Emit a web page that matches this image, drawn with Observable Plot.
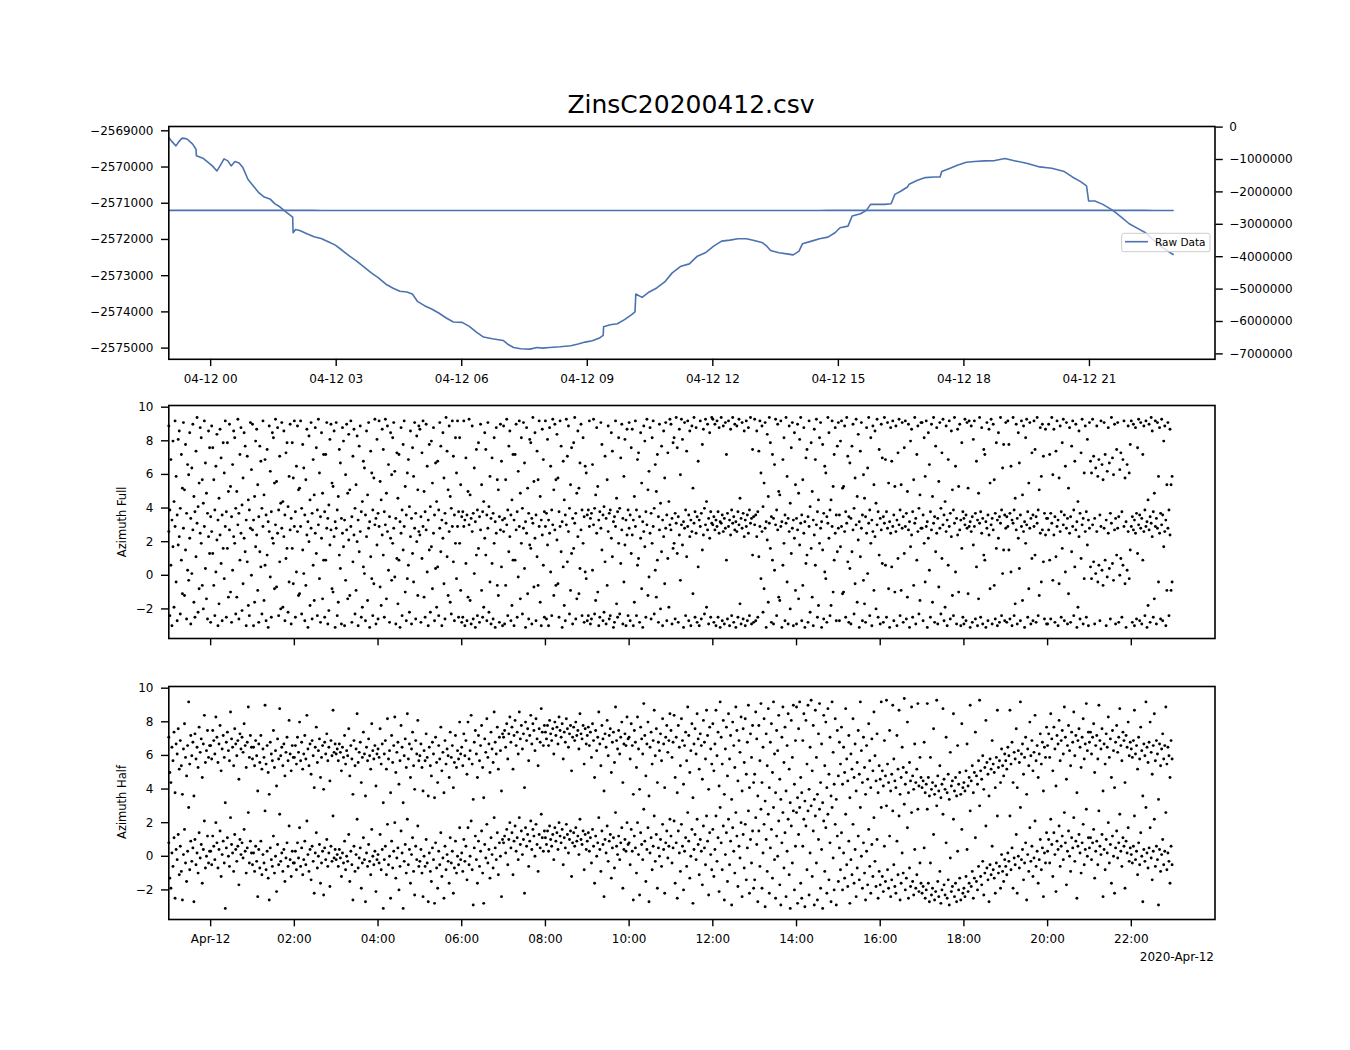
<!DOCTYPE html>
<html>
<head>
<meta charset="utf-8">
<script src="https://cdn.jsdelivr.net/npm/d3@7"></script>
<script src="https://cdn.jsdelivr.net/npm/@observablehq/plot@0.6"></script>
<style>
  body { margin: 0; background: #fff; }
  #fig { position: relative; width: 1350px; height: 1050px; font-family: "DejaVu Sans", sans-serif; overflow: hidden; }
  #fig > svg { position: absolute; left: 0; }
</style>
</head>
<body>
<div id="fig"></div>
<script>
// ---------------- data ----------------
const titleText = "ZinsC20200412.csv";

// top panel: raw data (hours relative to 2020-04-12 00:00 UTC)
const rawHours = [-1.00,-0.94,-0.83,-0.76,-0.68,-0.60,-0.55,-0.43,-0.35,-0.34,-0.17,0.04,0.15,0.21,0.32,0.41,0.49,0.58,0.68,0.77,0.89,1.02,1.15,1.28,1.43,1.53,1.66,1.79,1.96,1.97,2.03,2.13,2.30,2.47,2.64,2.81,2.98,3.15,3.32,3.49,3.66,3.84,4.01,4.18,4.35,4.52,4.69,4.82,4.94,5.11,5.28,5.45,5.63,5.80,6.01,6.18,6.35,6.52,6.73,6.99,7.12,7.24,7.41,7.63,7.80,7.93,8.10,8.35,8.61,8.78,8.95,9.12,9.29,9.38,9.39,9.55,9.72,9.89,10.06,10.14,10.16,10.31,10.48,10.66,10.85,11.03,11.24,11.44,11.63,11.82,12.02,12.21,12.41,12.60,12.80,12.99,13.19,13.29,13.38,13.58,13.77,13.92,14.06,14.14,14.36,14.55,14.75,14.92,15.04,15.23,15.33,15.53,15.67,15.77,15.92,16.11,16.26,16.35,16.50,16.65,16.69,16.89,17.08,17.28,17.43,17.47,17.67,17.86,18.06,18.25,18.50,18.74,18.98,19.23,19.52,19.81,20.10,20.40,20.59,20.79,20.93,20.98,21.13,21.32,21.56,21.76,21.95,22.15,22.34,22.54,22.73,23.00];
const rawValues = [-2569185,-2569277,-2569415,-2569300,-2569203,-2569215,-2569240,-2569369,-2569508,-2569692,-2569766,-2569969,-2570108,-2569997,-2569775,-2569831,-2569969,-2569849,-2569886,-2570015,-2570338,-2570523,-2570708,-2570828,-2570892,-2571012,-2571105,-2571234,-2571382,-2571815,-2571723,-2571751,-2571843,-2571926,-2571972,-2572065,-2572157,-2572305,-2572462,-2572600,-2572757,-2572923,-2573062,-2573228,-2573339,-2573431,-2573449,-2573505,-2573708,-2573828,-2573920,-2574031,-2574169,-2574280,-2574289,-2574400,-2574557,-2574695,-2574742,-2574788,-2574908,-2574982,-2575018,-2575028,-2574982,-2575000,-2574982,-2574963,-2574935,-2574889,-2574834,-2574797,-2574723,-2574649,-2574409,-2574354,-2574326,-2574215,-2574077,-2574003,-2573505,-2573600,-2573450,-2573339,-2573172,-2572923,-2572739,-2572674,-2572462,-2572369,-2572185,-2572046,-2572018,-2571982,-2571982,-2572028,-2572092,-2572185,-2572305,-2572369,-2572397,-2572425,-2572323,-2572120,-2572046,-2571982,-2571935,-2571815,-2571677,-2571631,-2571354,-2571289,-2571197,-2571031,-2571031,-2571031,-2571012,-2570754,-2570662,-2570551,-2570477,-2570366,-2570292,-2570274,-2570274,-2570126,-2570034,-2569942,-2569868,-2569849,-2569831,-2569822,-2569766,-2569831,-2569905,-2569997,-2570034,-2570126,-2570274,-2570403,-2570523,-2570938,-2570938,-2571031,-2571197,-2571382,-2571566,-2571695,-2571815,-2572028,-2572212,-2572415];
const seriesName = "Raw Data";

const leftTicks = [-2569000,-2570000,-2571000,-2572000,-2573000,-2574000,-2575000];
const rightTicks = [0,-1000000,-2000000,-3000000,-4000000,-5000000,-6000000,-7000000];
const topTickHours = [0,3,6,9,12,15,18,21];
const topTickLabels = ["04-12 00","04-12 03","04-12 06","04-12 09","04-12 12","04-12 15","04-12 18","04-12 21"];
const bottomTickHours = [0,2,4,6,8,10,12,14,16,18,20,22];
const bottomTickLabels = ["Apr-12","02:00","04:00","06:00","08:00","10:00","12:00","14:00","16:00","18:00","20:00","22:00"];
const bottomOffsetLabel = "2020-Apr-12";
const azTicks = [-2,0,2,4,6,8,10];
const azFullLabel = "Azimuth Full";
const azHalfLabel = "Azimuth Half";

// azimuth samples (radians), one row per hour starting 2020-04-11 23:00 UTC, evenly spaced inside each hour
const azStartHour = -1;
const azFull = [
[2.6,-2.4,0.6,-3.0,1.7,-1.9,2.9,-0.4,-2.7,1.8,2.3,-2.3,0.9,-1.1,2.8,-1.2,1.5,-2.6,0.3,-0.3,2.2,-2.9,0.1,2.7,-1.6,-2.5,1.1,3.1,-2.2,-0.8,2.5,1.9,-0.6,-2.0,2.9,0.4,-1.4,-2.6,2.3,1.3],
[-2.8,2.6,1.3,-0.6,-2.4,0.2,2.1,-3.0,-1.7,2.4,0.7,-2.7,1.6,-0.2,2.9,-2.5,1.6,-1.3,2.7,-1.0,-2.8,0.3,2.3,1.9,-2.3,-1.3,3.0,-2.6,0.9,2.5,-2.1,-0.5,2.2,1.4,-3.0,0.8,-1.8,-2.4,2.8,0.0],
[2.7,-3.0,-1.6,1.7,2.4,-0.9,-2.8,1.4,0.5,-2.3,2.9,-1.5,0.6,-2.7,1.2,-3.1,2.6,-0.1,-2.5,2.2,1.9,-0.8,3.0,-0.7,2.5,-2.4,0.8,-2.0,2.8,-1.9,2.3,-2.7,1.0,1.6,-2.2,-0.4,2.7,-2.9,1.6,-0.5],
[2.9,-2.5,0.2,2.6,-1.2,-1.1,2.9,-2.3,1.5,0.1,-2.7,-0.6,2.4,-3.1,2.0,-1.8,2.8,-2.6,0.6,-1.5,2.5,1.3,-2.4,3.0,-0.2,-2.8,2.2,-1.4,0.9,-2.5,0.9,2.8,-2.9,-2.1,1.8,2.7,-0.8,-1.0,2.3,-3.1],
[2.8,-2.4,-1.6,1.2,0.4,-2.9,2.5,1.7,-3.0,-0.3,2.7,-1.4,2.1,-1.2,2.9,-2.8,0.8,2.4,-2.3,-0.9,2.0,-3.0,1.4,2.6,-2.5,-1.9,0.5,0.1,-2.7,2.3,-1.5,2.8,-3.1,1.1,-0.2,-2.4,-0.5,3.0,-2.9,1.8],
[-2.6,2.9,-0.7,-1.8,2.4,1.2,-2.5,3.0,-1.4,2.6,0.3,-2.8,2.2,-0.3,1.9,2.8,-0.1,-2.9,1.0,-1.7,0.9,-3.1,2.5,-2.4,1.5,2.9,-1.0,-2.7,-0.2,0.6,-2.2,2.3,-2.9,1.3,-0.4,2.8,-2.6,2.0,-1.2,2.6],
[2.4,-2.8,1.0,2.9,-1.3,-2.5,2.7,0.2,-3.0,1.5,-2.2,1.7,-0.8,2.5,-2.7,0.4,-1.9,0.5,-2.4,2.8,1.4,-3.0,2.2,-0.5,-2.6,3.1,1.1,-1.2,2.6,-1.6,-2.3,2.9,0.8,-2.7,1.9,-0.2,2.9,-2.5,1.9,-0.9],
[-2.8,-2.5,2.9,-3.0,0.7,-2.7,-1.3,3.0,-1.5,-2.9,2.6,-2.6,0.1,-3.1,1.2,-2.4,1.6,-2.8,2.7,-0.9,-2.5,-1.9,2.2,1.2,-2.7,2.8,-2.2,-0.4,-2.9,0.7,-2.6,1.9,-3.1,2.5,-0.6,-1.2,-2.8,2.7,0.5,-3.0],
[2.6,-2.9,-0.6,3.0,-2.4,1.4,2.3,-2.7,-1.8,0.9,-3.0,0.9,2.7,-2.5,-0.1,2.9,-1.4,1.9,-2.3,2.8,0.4,-3.1,2.5,-1.1,-2.6,1.8,1.6,-2.9,3.1,-0.7,2.2,-2.7,1.1,-0.6,2.9,-1.6,-3.0,2.4,0.6,-2.5],
[2.9,-2.6,1.8,-3.0,2.5,0.2,-2.4,3.0,-1.2,2.7,-0.6,2.1,-0.5,-2.5,2.9,1.4,-3.1,0.5,-1.8,-2.7,3.0,0.8,2.6,-2.3,-0.9,1.3,-2.9,1.6,3.1,-2.6,-1.4,2.3,-1.1,0.4,2.7,-2.4,1.9,-2.8,0.2,-0.2],
[-2.7,-2.4,2.9,-2.9,-2.6,0.3,3.0,-2.3,-1.5,2.5,-1.0,-3.0,-2.5,2.8,1.5,-2.7,-2.2,0.8,-2.9,-0.6,2.6,-2.6,-2.4,2.2,1.1,-3.1,-2.8,2.9,-1.7,-2.5,1.9,-2.3,0.7,2.7,-2.9,-0.4,1.8,-3.0,2.4,-2.4],
[2.8,-2.7,1.3,2.4,-3.0,-1.6,2.9,-2.4,0.6,1.0,-2.8,2.2,-0.8,-3.1,2.6,1.7,-2.5,3.0,-1.2,-0.1,2.5,-2.6,1.9,2.9,-2.3,0.3,-1.3,0.9,-2.8,2.7,-2.0,1.4,-3.0,2.3,-0.5,2.8,-2.7,1.0,-1.9,3.0],
[2.7,-2.9,1.6,1.9,-2.6,3.1,1.3,-2.8,2.4,-0.3,3.0,1.8,-3.1,2.8,-2.4,1.1,2.9,-2.7,2.3,-3.0,2.6,-1.1,3.1,-2.5,2.5,-2.8,0.5,-3.0,2.9,-2.6,1.5,2.4,-2.3,3.0,-1.9,2.7,-2.9,2.2,-2.5,3.1],
[3.0,-2.8,2.7,-3.0,2.9,-2.5,2.5,-3.1,3.1,-2.7,2.6,-2.9,2.8,0.9,-2.6,2.9,-3.0,2.4,-2.4,3.1,-2.8,2.7,-3.1,2.6,-2.5,3.0,-1.7,-2.9,2.8,-2.6,2.3,-3.0,2.9,-2.7,2.5,-2.4,3.1,-2.9,1.2,-2.8],
[3.0,-2.7,2.3,-2.5,1.1,2.9,-0.2,2.6,-2.2,-0.8,2.8,-3.1,2.1,-1.6,3.1,1.6,-2.8,0.9,-2.9,0.3,3.0,-2.4,2.7,-1.3,-1.5,2.9,-3.1,0.6,1.9,-2.7,3.1,-0.4,-2.9,2.6,-2.0,1.3,2.8,-3.0,2.2,-0.9],
[-2.9,2.7,-1.4,1.8,3.1,-2.7,-0.6,2.5,-3.1,0.7,1.2,-2.8,2.9,-2.2,1.6,-1.3,-3.0,2.4,0.6,3.0,-2.5,-1.8,1.9,2.8,-3.1,1.5,-2.6,0.2,-0.2,-2.8,3.1,2.2,-2.4,-1.8,2.9,-1.0,0.9,2.5,-2.7,1.4],
[2.8,-2.7,1.7,2.9,-1.1,-1.0,2.6,-2.5,3.1,0.8,-2.8,0.4,-2.9,1.4,2.7,-2.3,-0.5,3.0,-1.6,2.1,-3.1,1.1,2.8,-2.7,-0.3,-1.7,-2.8,2.5,0.1,3.1,-2.4,1.9,-3.0,2.6,-0.9,2.3,-2.0,3.0,-2.5,1.2],
[-2.9,2.7,0.7,-2.8,3.1,0.6,-2.5,2.8,-0.8,-3.1,2.5,0.5,2.9,-2.7,-1.0,2.6,-3.0,1.0,3.0,-2.4,-0.9,2.8,-2.8,1.3,2.9,-2.6,-1.3,2.7,-3.1,1.7,2.4,-2.5,-0.6,3.1,-2.9,0.9,2.6,-2.3,-1.5,2.8],
[2.8,-2.7,1.9,-0.4,2.9,-3.1,2.2,0.3,-2.5,2.7,-1.6,3.1,-2.8,1.4,2.5,-2.9,-0.7,2.8,-2.3,1.0,3.0,-2.7,-1.9,2.6,-3.0,0.6,2.9,-2.6,2.3,-1.2,-2.4,3.1,0.2,-2.9,2.4,-1.0,2.7,-3.0,1.6,-2.5],
[-2.9,3.0,-2.7,2.8,-1.1,2.9,-3.1,2.6,-2.8,1.8,2.9,-2.6,0.5,-3.0,-1.4,3.1,-2.5,2.5,-2.9,1.2,0.9,-3.1,2.8,-2.7,2.4,-0.8,3.0,-2.9,2.7,-0.6,-2.6,1.6,-3.0,2.2,-2.8,3.1,-2.4,0.1,1.5,-2.7],
[2.8,-2.8,2.9,1.5,-2.6,0.2,-3.0,3.1,-2.4,-1.7,2.7,-2.9,2.2,0.4,-2.7,2.9,-1.5,2.6,-3.1,1.9,3.0,-2.5,-0.8,2.8,-2.9,1.0,-2.7,2.9,1.2,-2.8,3.1,-2.4,-1.2,2.5,-0.4,2.7,0.8,-2.6,2.4,-2.9],
[-2.9,2.7,0.9,-2.6,3.1,-0.3,2.4,-2.8,1.1,2.9,-3.0,-0.5,2.6,-2.5,1.6,3.0,-2.7,0.2,2.8,-2.9,-1.1,2.5,-2.8,1.4,2.9,-2.4,0.5,2.7,-3.1,-1.9,2.3,-2.6,1.0,3.0,-2.9,-0.2,2.6,-2.5,1.8,-3.0],
[2.8,0.5,-0.2,3.0,0.8,-2.9,0.1,2.6,-0.4,0.6,-2.7,2.9,0.3,-0.6,2.8,0.9,-3.0,-0.1,2.5,0.4,-2.6,3.1,0.7,-0.3,2.7,-2.9,1.2,2.8,-2.8,0.0,1.0,-2.5,0.6,2.9,-0.5,-3.1,0.3,2.6,-0.2,1.5],
[2.9,-2.8,2.7,-3.0,2.5,-2.6,1.3,3.0,-2.7,2.8,-2.9,0.9,2.6,-2.4,2.9,-3.1,-1.8,2.7,-2.8,3.1,2.3,-2.5,-1.4,2.9,-2.9,2.8,-0.4,2.5,-2.6,3.0,-2.7,1.7,2.6,-3.0,-0.9,2.8,-2.4,2.4,-0.9,-0.4]
];
const azHalf = [
[0.8,-1.3,-1.9,0.2,-0.6,1.1,-2.5,0.4,-0.2,1.3,-1.1,0.6,-0.9,-2.6,0.1,1.6,-0.4,-1.5,0.3,2.9,-0.8,0.9,-0.3,0.5,-2.7,1.0,-0.5,0.2,-1.0,1.4,-0.1,0.7,-1.6,0.4,2.1,-0.7,0.0,1.2,-0.4,0.3],
[0.3,-0.5,1.2,0.6,-0.2,2.0,0.8,-0.7,0.4,1.5,-1.2,0.1,0.9,-0.4,-3.1,0.5,1.1,0.0,-0.6,2.3,0.7,0.2,-0.9,1.3,0.4,-0.3,0.6,-1.7,1.0,0.1,0.8,-0.1,1.6,0.3,-1.0,0.5,2.6,-0.4,0.9,0.2],
[-0.5,0.2,-0.9,0.6,-0.3,-2.4,0.4,-0.7,0.9,-1.1,0.1,-0.4,2.7,-0.8,0.3,-1.3,-2.6,0.5,-0.2,-0.6,1.2,-1.0,0.0,-2.1,0.7,-0.5,2.5,-0.3,0.2,-0.9,0.4,-1.5,-0.1,0.8,-0.6,1.8,-0.2,-1.2,0.3,-0.4],
[-0.4,0.3,-0.8,0.8,-0.1,1.7,-0.6,0.5,-1.1,-0.2,0.9,-0.5,2.1,0.1,-0.9,0.4,-1.4,0.6,-0.3,-2.2,0.2,1.4,-0.7,0.0,0.7,-1.6,-0.4,0.3,-2.3,0.5,-0.2,1.0,-0.6,0.2,-1.8,0.6,-0.3,2.4,-0.1,0.4],
[-0.2,0.1,-0.6,0.4,-0.1,-1.2,0.2,-0.4,0.9,-0.8,0.0,-0.3,1.3,-1.5,0.3,-0.5,-2.6,0.6,-0.9,0.1,2.2,-0.7,-0.1,0.5,-1.9,-0.4,1.1,-0.2,-2.7,0.2,-0.6,0.7,-0.3,-1.1,1.6,0.0,-0.5,0.3,-2.1,-0.2],
[0.1,-0.4,1.3,-0.8,0.4,-3.1,-0.2,0.6,-1.1,1.9,-0.5,0.0,-2.5,0.9,-0.7,0.3,2.0,-1.3,-0.1,0.5,-2.0,-0.6,1.5,0.2,-3.1,-0.3,0.7,-1.0,2.2,-0.5,0.4,-1.6,0.1,1.1,-0.9,-2.3,0.6,-0.2,1.8,-0.6],
[-0.3,0.4,-1.0,-2.4,0.0,-0.6,1.0,-0.4,-2.7,0.2,-0.9,-1.5,0.5,-0.2,-2.8,0.8,-0.7,-1.9,0.3,-0.5,1.4,-1.2,-0.1,-2.5,0.6,-0.8,0.1,-0.3,-1.6,1.1,-0.4,0.3,-2.2,-0.7,0.9,-1.0,0.0,-0.5,1.7,-0.2],
[0.2,-0.9,1.0,-0.3,0.6,-1.4,1.7,-0.5,0.0,2.1,-0.8,-2.9,0.5,1.2,-0.2,-1.6,0.9,-0.6,0.3,1.5,-1.0,-2.8,0.7,-0.1,1.9,-0.4,0.4,-1.3,1.1,0.1,-0.7,2.3,0.5,-0.2,1.4,-1.1,0.8,0.0,-2.4,1.0],
[0.8,1.2,0.2,1.6,-0.5,1.0,2.0,0.5,1.4,-1.1,0.9,1.8,0.3,1.1,-0.2,2.3,0.7,1.5,0.1,1.0,-2.2,1.7,0.6,1.3,-0.6,0.9,2.1,0.4,1.6,1.2,0.0,1.9,0.7,-0.9,1.3,0.5,2.5,1.1,0.3,1.5],
[1.1,0.7,1.5,0.3,1.8,1.0,0.6,1.3,-0.2,1.7,0.9,1.4,0.4,2.0,1.2,0.8,1.6,-0.5,1.1,0.5,1.9,1.3,0.2,1.0,1.5,-1.2,0.8,1.4,0.6,1.7,0.9,1.2,0.1,2.2,1.0,0.7,1.5,-0.8,1.3,0.4],
[0.9,1.4,0.3,1.1,-0.4,1.6,0.6,-1.6,1.2,0.0,0.8,2.3,0.4,-0.9,1.5,0.7,-2.4,1.0,0.2,1.8,-0.3,0.9,1.3,-1.3,0.5,1.1,-0.7,2.6,0.6,0.1,1.2,-0.2,0.8,1.7,-1.9,0.4,1.0,0.3,2.0,0.7],
[0.8,-0.5,1.6,0.3,-2.6,1.2,0.5,-1.0,2.0,0.1,-2.3,1.4,0.7,-0.2,2.8,0.9,-1.5,0.4,1.7,-2.7,0.2,1.1,-0.8,0.6,2.4,-0.3,1.3,-1.9,0.5,0.0,1.0,-0.6,1.9,0.4,-2.2,0.8,1.5,-0.1,0.6,2.2],
[1.2,-0.4,0.5,2.1,-1.6,0.8,-2.5,1.5,0.2,-0.9,1.9,0.6,-2.0,0.3,1.1,-0.6,2.6,0.9,-1.3,0.0,1.6,-2.8,0.4,1.3,-0.2,2.2,0.7,-1.1,1.0,0.3,-1.7,1.8,0.5,-0.5,2.4,0.9,-2.3,1.4,0.1,-0.8],
[1.6,-1.2,0.4,2.4,-0.3,1.1,-2.1,2.9,0.8,-0.8,1.8,-2.6,0.1,1.4,-1.5,2.2,-0.5,0.9,-2.9,1.7,0.3,-1.0,2.6,1.2,-1.8,0.6,-0.1,2.0,-2.4,1.3,-0.7,1.9,-1.4,0.5,2.7,-2.2,1.0,-0.4,1.5,-1.9],
[-1.4,2.3,0.7,-2.7,1.5,-0.6,2.8,-1.9,0.2,1.9,-3.0,1.0,-0.9,2.5,-2.2,0.5,1.6,-1.3,2.9,-0.2,-2.5,1.2,0.0,2.1,-1.7,-2.9,0.8,2.6,-0.7,1.4,-2.4,0.3,2.2,-1.1,-3.1,1.8,-0.4,2.7,-2.0,0.6],
[2.6,-2.8,1.3,2.9,-1.6,-2.5,0.6,2.2,-3.0,1.8,-0.8,2.7,-2.3,0.2,3.0,-1.2,1.5,-2.9,2.4,-0.4,-2.6,1.0,2.8,-1.9,0.4,-3.1,2.1,-0.9,1.7,-2.2,2.5,-1.4,0.8,-2.7,2.9,-0.1,-2.0,1.9,-2.9,1.2],
[-1.5,0.5,-0.8,1.4,-2.0,0.2,-1.3,2.5,-0.5,-1.8,0.9,-2.8,-0.2,-1.1,1.9,-1.6,0.4,-2.4,-0.7,1.2,-1.4,2.9,0.0,-1.9,0.8,-1.0,-2.6,0.3,-1.7,1.6,-0.6,-2.2,0.7,-1.2,2.3,-0.3,-1.8,1.0,-2.5,-0.9],
[-1.7,2.9,-1.2,-2.1,0.6,-1.5,3.0,-0.8,-1.9,1.2,-2.4,-1.4,2.7,-0.5,-1.8,-2.2,0.9,-1.1,2.4,-2.6,-1.6,0.2,-1.0,3.1,-2.0,-1.3,1.7,-2.5,-0.7,-1.8,2.6,-1.5,-2.3,0.4,-1.9,-1.1,2.8,-2.1,-0.4,-1.6],
[-2.2,-1.8,0.5,-2.5,-2.0,2.8,-1.6,-2.7,-0.4,-2.3,-1.9,1.3,-2.6,-2.1,3.0,-1.5,-2.4,-0.9,-2.8,-2.0,2.5,-1.7,-2.3,0.8,-2.5,-1.4,-2.9,-0.1,-2.1,-1.8,2.2,-2.4,-1.6,-2.7,0.3,-2.0,-1.3,-2.6,1.6,-2.2],
[-1.9,-2.4,-1.2,0.4,-2.1,-1.6,2.7,-1.8,-0.9,-2.5,-1.3,1.1,-1.5,-2.0,-0.6,3.0,-1.2,-1.7,-0.3,-2.3,-1.0,1.8,-0.7,-1.4,-2.7,-0.5,-1.1,0.6,-0.8,-1.3,-2.2,-0.4,2.4,-1.0,-0.6,-1.9,0.1,-0.9,-1.5,-0.2],
[-0.6,-1.1,0.2,-0.3,2.4,-0.8,0.5,-1.9,-0.1,-0.5,1.3,-2.2,0.0,-0.7,2.9,-0.2,0.4,-1.4,-0.4,0.8,-2.6,0.1,-0.9,1.7,-0.3,0.6,-1.2,-0.1,2.1,-0.6,0.3,-1.6,-0.2,1.0,-0.8,0.5,-2.4,0.2,-0.4,1.4],
[0.3,1.0,-0.4,2.2,0.7,-1.2,1.4,0.1,-2.1,0.9,0.4,1.8,-0.6,0.6,1.2,-0.2,2.6,0.8,-1.7,0.3,1.5,0.0,-0.9,1.1,0.5,2.3,-0.3,0.9,-2.5,0.6,1.3,0.2,-1.0,0.8,1.9,-0.5,0.4,2.8,0.0,1.1],
[0.5,1.1,-0.2,0.8,1.6,-1.3,0.3,0.9,-0.5,2.7,0.6,0.1,1.3,-2.4,0.4,-0.8,1.0,0.2,2.0,-0.4,0.7,-1.6,1.2,0.0,-2.2,0.5,1.5,-0.1,0.8,2.5,0.3,-0.6,1.1,0.6,-1.9,0.9,0.2,1.7,-0.3,0.5],
[0.1,-0.4,0.6,2.4,-0.2,0.3,-1.1,0.8,-0.5,1.4,0.0,-2.7,0.4,-0.3,2.9,0.2,-0.7,0.5,1.7,-0.1,-1.4,0.3,2.2,-0.6,0.6,-0.2,-2.9,0.4,-0.9,0.1,1.0,-0.5,0.3,2.6,-0.8,0.2,-0.3,-1.6,0.6,-0.5]
];

// ---------------- helpers ----------------
const T0 = Date.UTC(2020, 3, 12, 0, 0, 0);
const toDate = h => new Date(T0 + h * 3600e3);
const xDomain = [toDate(-1), toDate(24)];
const minus = v => (v < 0 ? "\u2212" + Math.abs(v) : String(v));
const BLUE = "#4c72b0";
const FONT = "DejaVu Sans";
const W = 1350, ML = 168.3, MR = 1350 - 1214.5;

// left / right (twin) axis of the top panel
const LTOP = -2568881, LBOT = -2575309;
const RTOP = 18500, RBOT = -7167000;
const rightToLeft = r => LTOP + (r - RTOP) / (RBOT - RTOP) * (LBOT - LTOP);
const leftToRight = l => RTOP + (l - LTOP) / (LBOT - LTOP) * (RBOT - RTOP);

const rawRows = rawHours.map((h, i) => ({ time: toDate(h), value: rawValues[i] }));
const azRows = (rows) => rows.flatMap((row, k) => row.map((v, j) => ({ time: toDate(azStartHour + k + j / row.length), h: v })));
const fullRows = azRows(azFull);
const halfRows = azRows(azHalf);

const labelMap = (hours, labels) => { const m = new Map(); hours.forEach((h, i) => m.set(+toDate(h), labels[i])); return m; };
const topLabels = labelMap(topTickHours, topTickLabels);
const botLabels = labelMap(bottomTickHours, bottomTickLabels);

const style = { fontFamily: FONT, fontSize: "12px", color: "black", background: "transparent", overflow: "visible" };
const fig = document.getElementById("fig");

function place(svg, top) { svg.style.top = top + "px"; svg.style.position = "absolute"; svg.style.left = "0px"; fig.appendChild(svg); }

// ---------------- top panel ----------------
const topPlot = Plot.plot({
  width: W, height: 10 + 232.8 + 40,
  marginLeft: ML, marginRight: MR, marginTop: 10, marginBottom: 40,
  style,
  x: { type: "utc", domain: xDomain },
  y: { domain: [LBOT, LTOP] },
  marks: [
    Plot.line(rawRows, { x: "time", y: "value", stroke: BLUE, strokeWidth: 1.6 }),
    Plot.line(rawRows, { x: "time", y: d => rightToLeft(d.value), stroke: BLUE, strokeWidth: 1.6 }),
    Plot.axisX({ ticks: topTickHours.map(toDate), tickFormat: d => topLabels.get(+d), tickSize: 7.3, tickPadding: 8, strokeWidth: 1.4, label: null }),
    Plot.axisY({ ticks: leftTicks, tickFormat: minus, tickSize: 7.3, tickPadding: 8, strokeWidth: 1.4, label: null }),
    Plot.axisY({ anchor: "right", ticks: rightTicks.map(rightToLeft), tickFormat: d => minus(Math.round(leftToRight(d) / 1e6) * 1e6), tickSize: 7.3, tickPadding: 7, strokeWidth: 1.4, label: null }),
    Plot.frame({ stroke: "black", strokeWidth: 1.6 })
  ]
});
place(topPlot, 125.7 - 10);

// ---------------- scatter panels ----------------
function azPlot(rows, withLabels) {
  return Plot.plot({
    width: W, height: 10 + 233 + 40,
    marginLeft: ML, marginRight: MR, marginTop: 10, marginBottom: 40,
    style,
    x: { type: "utc", domain: xDomain },
    y: { domain: [-3.76, 10.1] },
    marks: [
      Plot.dot(rows, { x: "time", y: "h", r: 1.45, fill: "black", stroke: null }),
      Plot.dot(rows, { x: "time", y: d => d.h + 2 * Math.PI, r: 1.45, fill: "black", stroke: null }),
      Plot.axisX({ ticks: bottomTickHours.map(toDate), tickFormat: withLabels ? (d => botLabels.get(+d)) : (() => ""), tickSize: 7.3, tickPadding: 8, strokeWidth: 1.4, label: null }),
      Plot.axisY({ ticks: azTicks, tickFormat: minus, tickSize: 7.3, tickPadding: 8, strokeWidth: 1.4, label: null }),
      Plot.frame({ stroke: "black", strokeWidth: 1.6 })
    ]
  });
}
place(azPlot(fullRows, false), 405.2 - 10);
place(azPlot(halfRows, true), 686 - 10);

// ---------------- overlay texts: title, y labels, offset, legend ----------------
const ns = "http://www.w3.org/2000/svg";
const ov = document.createElementNS(ns, "svg");
ov.setAttribute("width", W); ov.setAttribute("height", 1050);
ov.style.position = "absolute"; ov.style.left = "0px"; ov.style.top = "0px";
ov.setAttribute("font-family", FONT);
fig.appendChild(ov);
function txt(x, y, s, size, anchor, extra) {
  const t = document.createElementNS(ns, "text");
  t.setAttribute("x", x); t.setAttribute("y", y);
  t.setAttribute("font-size", size); t.setAttribute("text-anchor", anchor || "start");
  t.setAttribute("fill", "black");
  if (extra) for (const k in extra) t.setAttribute(k, extra[k]);
  t.textContent = s; ov.appendChild(t); return t;
}
txt(691, 113, titleText, 25, "middle");
txt(0, 0, azFullLabel, 11.5, "middle", { transform: "translate(126,521.8) rotate(-90)" });
txt(0, 0, azHalfLabel, 11.5, "middle", { transform: "translate(126,802) rotate(-90)" });
txt(1214, 961, bottomOffsetLabel, 12, "end");

// legend (center right of the top panel)
const lg = document.createElementNS(ns, "g");
ov.appendChild(lg);
const box = document.createElementNS(ns, "rect");
box.setAttribute("x", 1121.7); box.setAttribute("y", 233.3); box.setAttribute("width", 88.3); box.setAttribute("height", 18.4);
box.setAttribute("rx", 2); box.setAttribute("fill", "white"); box.setAttribute("fill-opacity", 0.8);
box.setAttribute("stroke", "#cccccc"); box.setAttribute("stroke-width", 1);
lg.appendChild(box);
const ll = document.createElementNS(ns, "line");
ll.setAttribute("x1", 1125); ll.setAttribute("x2", 1148); ll.setAttribute("y1", 241.7); ll.setAttribute("y2", 241.7);
ll.setAttribute("stroke", BLUE); ll.setAttribute("stroke-width", 1.6);
lg.appendChild(ll);
txt(1155, 245.6, seriesName, 10.5, "start");
</script>
</body>
</html>
